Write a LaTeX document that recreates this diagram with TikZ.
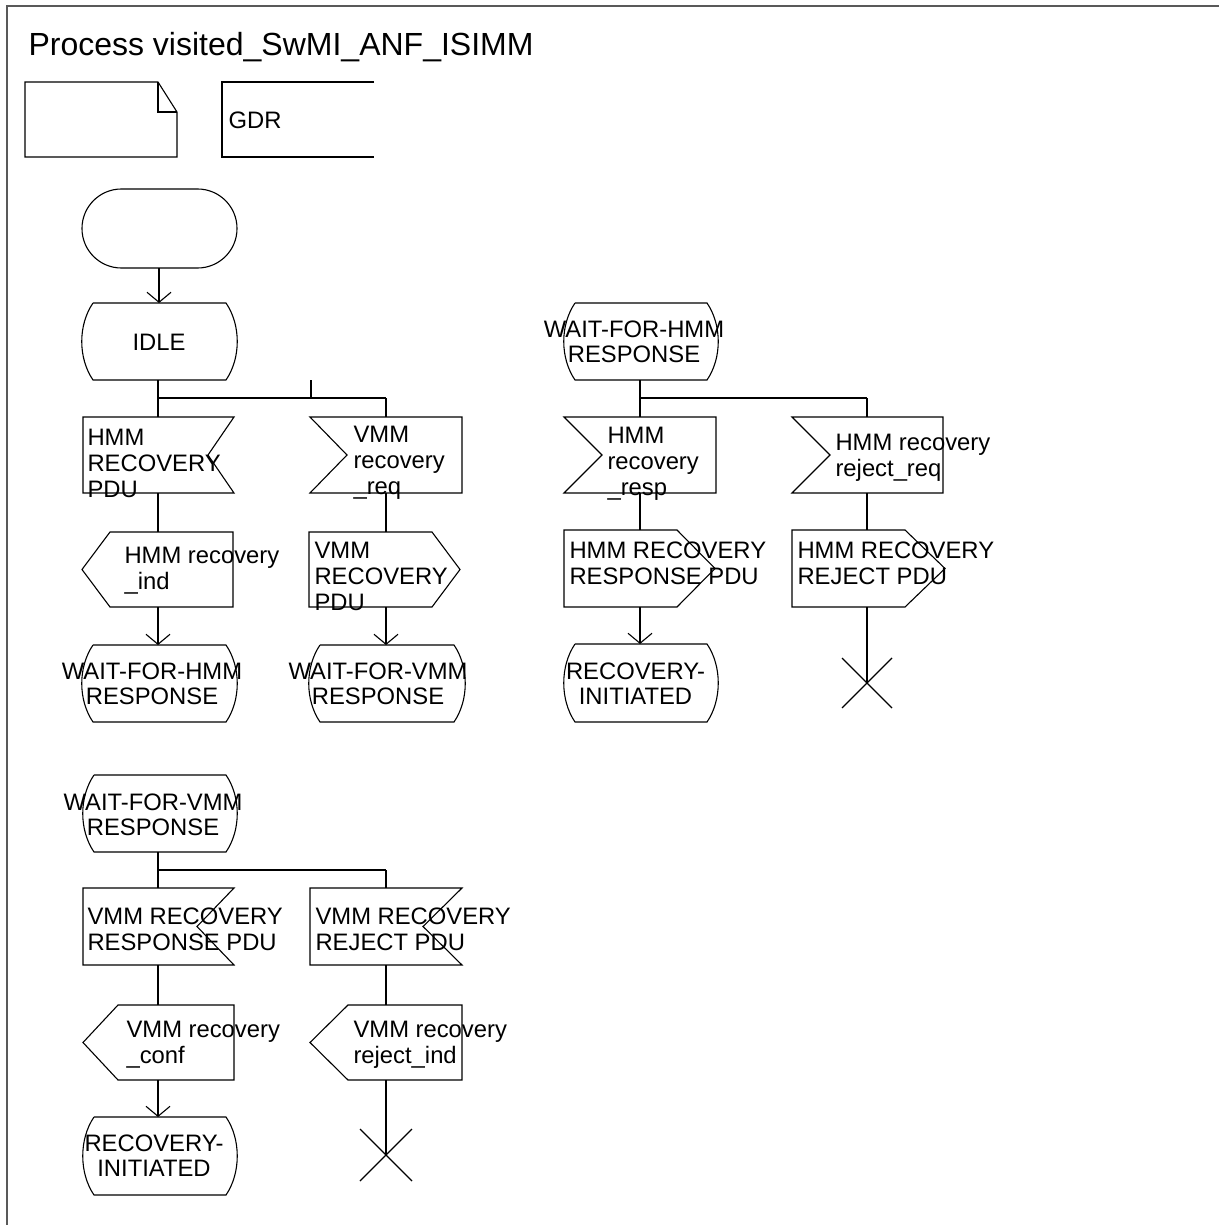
\documentclass[tikz,border=0pt]{standalone}
\usepackage{fontspec}
\setmainfont{Liberation Sans}
\usetikzlibrary{arrows.meta}
\newcommand\SdlState[4]{\draw ({#1+11},#2) -- ({#3-11},#2) .. controls ({#3+4},{#2+22}) and ({#3+4},{#4-22}) .. ({#3-11},#4) -- ({#1+11},#4) .. controls ({#1-4},{#4-22}) and ({#1-4},{#2+22}) .. ({#1+11},#2);}
\newcommand\SdlInR[5]{\draw (#1,#2) -- (#3,#2) -- ({#3-#5},{(#2+#4)/2}) -- (#3,#4) -- (#1,#4) -- cycle;}
\newcommand\SdlInL[5]{\draw (#1,#2) -- (#3,#2) -- (#3,#4) -- (#1,#4) -- ({#1+#5},{(#2+#4)/2}) -- cycle;}
\newcommand\SdlOutR[5]{\draw (#1,#2) -- ({#3-#5},#2) -- (#3,{(#2+#4)/2}) -- ({#3-#5},#4) -- (#1,#4) -- cycle;}
\newcommand\SdlOutL[5]{\draw (#1,{(#2+#4)/2}) -- ({#1+#5},#2) -- (#3,#2) -- (#3,#4) -- ({#1+#5},#4) -- cycle;}
\newcommand\SdlStop[3]{\draw ({#1-#3},{#2-#3}) -- ({#1+#3},{#2+#3}) ({#1-#3},{#2+#3}) -- ({#1+#3},{#2-#3});}
\begin{document}
\begin{tikzpicture}[x=0.5pt,y=-0.5pt,line width=0.55pt,
  lbl/.style={inner sep=0pt,anchor=west,align=left,font=\fontsize{11.9}{13}\selectfont},
  slbl/.style={inner sep=0pt,align=center,font=\fontsize{11.9}{12.5}\selectfont},
  flow/.style={-{Straight Barb[length=5pt,width=12pt]}}]
\useasboundingbox (0,0) rectangle (1219,1225);
% frame
\draw[line width=1pt,draw=black!65] (7,1225) -- (7,6) -- (1219,6);
\node[inner sep=0pt,anchor=base west,font=\fontsize{16}{19}\selectfont] (title) at (28,55.7) {Process visited\_SwMI\_ANF\_ISIMM};
% header symbols
\draw (25,82) -- (158,82) -- (177,112) -- (177,157) -- (25,157) -- cycle;
\draw (158,82) -- (158,112) -- (177,112);
\draw (374,82) -- (222,82) -- (222,157) -- (374,157);
\node[lbl] (gdr) at (228,120) {GDR};

% ===== left top branch =====
\draw[rounded corners=19.7pt] (82,189) rectangle (237,268);
\coordinate (start-s) at (159,268);
\SdlState{82}{303}{237}{380}
\node[slbl] (idle) at (159,342) {IDLE};
\coordinate (idle-n) at (159,303);
\coordinate (idle-s) at (158,380);
\coordinate (j1) at (158,398);
\coordinate (j1r) at (386,398);
\coordinate (stub) at (311,380);
\coordinate (stubj) at (311,398);
\draw[flow] (start-s) -- (idle-n);
\draw (idle-s) -- (j1) -- (j1r);
\draw (stub) -- (stubj);

\SdlInR{83}{417}{234}{493}{26}
\node[lbl] (hmmpdu) at (87,463) {HMM\\RECOVERY\\PDU};
\coordinate (hmmpdu-n) at (158,417);
\coordinate (hmmpdu-s) at (158,493);
\SdlInL{310}{417}{462}{493}{37}
\node[lbl] (vmmreq) at (353,463) {VMM\\recovery\\\_req};
\coordinate (vmmreq-n) at (386,417);
\coordinate (vmmreq-s) at (386,493);
\draw (j1) -- (hmmpdu-n);
\draw (j1r) -- (vmmreq-n);

\SdlOutL{82}{532}{233}{607}{28}
\node[lbl] (hmmind) at (124,570.5) {HMM recovery\\\_ind};
\coordinate (hmmind-n) at (158,532);
\coordinate (hmmind-s) at (158,607);
\SdlOutR{309}{532}{460}{607}{28}
\node[lbl] (vmmpdu) at (314,576) {VMM\\RECOVERY\\PDU};
\coordinate (vmmpdu-n) at (386,532);
\coordinate (vmmpdu-s) at (386,607);
\draw (hmmpdu-s) -- (hmmind-n);
\draw (vmmreq-s) -- (vmmpdu-n);

\SdlState{82}{645}{237}{722}
\node[slbl] (wh1) at (152,683.5) {WAIT-FOR-HMM\\RESPONSE};
\coordinate (wh1-n) at (158,645);
\SdlState{309}{645}{465}{722}
\node[slbl] (wv1) at (378,683.5) {WAIT-FOR-VMM\\RESPONSE};
\coordinate (wv1-n) at (386,645);
\draw[flow] (hmmind-s) -- (wh1-n);
\draw[flow] (vmmpdu-s) -- (wv1-n);

% ===== right top branch =====
\SdlState{564}{303}{718}{380}
\node[slbl] (wh2) at (634,342) {WAIT-FOR-HMM\\RESPONSE};
\coordinate (wh2-s) at (640,380);
\coordinate (j2) at (640,398);
\coordinate (j2r) at (867,398);
\draw (wh2-s) -- (j2) -- (j2r);

\SdlInL{564}{417}{716}{493}{38}
\node[lbl] (hresp) at (607,464) {HMM\\recovery\\\_resp};
\coordinate (hresp-n) at (640,417);
\coordinate (hresp-s) at (640,493);
\SdlInL{792}{417}{943}{493}{38}
\node[lbl] (hrej) at (835,457.5) {HMM recovery\\reject\_req};
\coordinate (hrej-n) at (867,417);
\coordinate (hrej-s) at (867,493);
\draw (j2) -- (hresp-n);
\draw (j2r) -- (hrej-n);

\SdlOutR{564}{530}{715}{607}{38}
\node[lbl] (hresppdu) at (569,563) {HMM RECOVERY\\RESPONSE PDU};
\coordinate (hresppdu-n) at (640,530);
\coordinate (hresppdu-s) at (640,607);
\SdlOutR{792}{530}{945}{607}{40}
\node[lbl] (hrejpdu) at (797,563) {HMM RECOVERY\\REJECT PDU};
\coordinate (hrejpdu-n) at (867,530);
\coordinate (hrejpdu-s) at (867,607);
\draw (hresp-s) -- (hresppdu-n);
\draw (hrej-s) -- (hrejpdu-n);

\SdlState{564}{644}{718}{722}
\node[slbl] (ri1) at (635.5,683.5) {RECOVERY-\\INITIATED};
\coordinate (ri1-n) at (640,644);
\draw[flow] (hresppdu-s) -- (ri1-n);
\coordinate (stop1) at (867,683);
\SdlStop{867}{683}{25}
\draw (hrejpdu-s) -- (stop1);

% ===== bottom branch =====
\SdlState{83}{775}{237}{852}
\node[slbl] (wv2) at (153,815) {WAIT-FOR-VMM\\RESPONSE};
\coordinate (wv2-s) at (158,852);
\coordinate (j3) at (158,870);
\coordinate (j3r) at (386,870);
\draw (wv2-s) -- (j3) -- (j3r);

\SdlInR{83}{888}{234}{965}{37}
\node[lbl] (vresppdu) at (87,929) {VMM RECOVERY\\RESPONSE PDU};
\coordinate (vresppdu-n) at (158,888);
\coordinate (vresppdu-s) at (158,965);
\SdlInR{310}{888}{462}{965}{39}
\node[lbl] (vrejpdu) at (315,929) {VMM RECOVERY\\REJECT PDU};
\coordinate (vrejpdu-n) at (386,888);
\coordinate (vrejpdu-s) at (386,965);
\draw (j3) -- (vresppdu-n);
\draw (j3r) -- (vrejpdu-n);

\SdlOutL{83}{1005}{234}{1080}{35}
\node[lbl] (vconf) at (126,1044.5) {VMM recovery\\\_conf};
\coordinate (vconf-n) at (158,1005);
\coordinate (vconf-s) at (158,1080);
\SdlOutL{310}{1005}{462}{1080}{38}
\node[lbl] (vrejind) at (353,1044.5) {VMM recovery\\reject\_ind};
\coordinate (vrejind-n) at (386,1005);
\coordinate (vrejind-s) at (386,1080);
\draw (vresppdu-s) -- (vconf-n);
\draw (vrejpdu-s) -- (vrejind-n);

\SdlState{83}{1117}{237}{1195}
\node[slbl] (ri2) at (154,1155.5) {RECOVERY-\\INITIATED};
\coordinate (ri2-n) at (158,1117);
\draw[flow] (vconf-s) -- (ri2-n);
\coordinate (stop2) at (386,1155);
\SdlStop{386}{1155}{26}
\draw (vrejind-s) -- (stop2);
\end{tikzpicture}
\end{document}
